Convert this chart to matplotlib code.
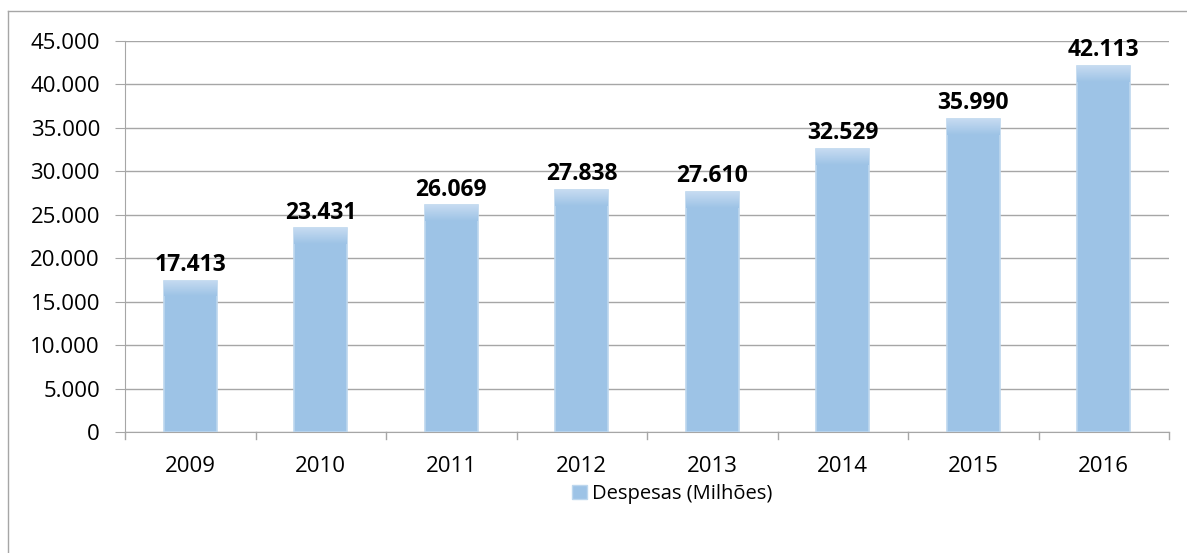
import matplotlib.pyplot as plt
import numpy as np
from matplotlib.colors import LinearSegmentedColormap
from matplotlib.lines import Line2D
from matplotlib.patches import Rectangle

years = ["2009", "2010", "2011", "2012", "2013", "2014", "2015", "2016"]
despesas = [17413, 23431, 26069, 27838, 27610, 32529, 35990, 42113]
labels = ["17.413", "23.431", "26.069", "27.838", "27.610", "32.529", "35.990", "42.113"]
yticks = [0, 5000, 10000, 15000, 20000, 25000, 30000, 35000, 40000, 45000]
ytick_labels = ["0", "5.000", "10.000", "15.000", "20.000", "25.000", "30.000",
                "35.000", "40.000", "45.000"]

plt.rcParams['font.family'] = ['Open Sans', 'DejaVu Sans']

W, H = 1187, 553
fig = plt.figure(figsize=(W / 100, H / 100), dpi=100)
ax = fig.add_axes([125 / W, 1 - 432 / H, (1169 - 125) / W, (432 - 41) / H])

x = np.arange(len(years))
bar_color = "#9DC3E6"
grid_color = "#A6A6A6"
bars = ax.bar(x, despesas, width=0.405, color=bar_color, edgecolor="#BDD7EE",
              linewidth=1.2, zorder=3)

# lighter band at the top of each bar (Excel style gradient)
grad = np.linspace(0, 1, 100).reshape(-1, 1)
cmap = LinearSegmentedColormap.from_list("g", [bar_color, "#C6DBF1"])
for b in bars:
    bx, bw, bh = b.get_x(), b.get_width(), b.get_height()
    top_h = 1800
    im = ax.imshow(grad, extent=[bx, bx + bw, bh - top_h, bh], origin="lower",
                   cmap=cmap, aspect="auto", zorder=3.5)
    im.set_clip_path(b)

for xi, v, lab in zip(x, despesas, labels):
    ax.text(xi, v + 450, lab, ha="center", va="bottom", fontsize=16.5,
            fontweight="bold", color="black", zorder=5)

ax.set_xlim(-0.5, len(years) - 0.5)
ax.set_ylim(0, 45000)
ax.set_yticks(yticks)
ax.set_yticklabels(ytick_labels, fontsize=16)
ax.set_xticks(x)
ax.set_xticklabels(years, fontsize=16)
ax.tick_params(axis="x", length=0, pad=17)
ax.tick_params(axis="y", length=7, color=grid_color, pad=11)
ax.yaxis.grid(True, color=grid_color, linewidth=1.0, zorder=0)
ax.set_axisbelow(True)
for s in ["top", "right"]:
    ax.spines[s].set_visible(False)
ax.spines["left"].set_color(grid_color)
ax.spines["bottom"].set_color(grid_color)

# category boundary ticks on the x axis
for b in np.arange(-0.5, len(years), 1.0):
    ax.add_line(Line2D([b, b], [0, -0.018], color=grid_color, linewidth=1.0,
                       transform=ax.get_xaxis_transform(), clip_on=False))

# legend
handle = Rectangle((0, 0), 1, 1, facecolor=bar_color, edgecolor="#BDD7EE")
fig.legend([handle], ["Despesas (Milhões)"], loc="center",
           bbox_to_anchor=(672 / W, 1 - 494 / H), frameon=False, fontsize=14.5,
           handlelength=0.75, handleheight=0.75, handletextpad=0.25)

# outer chart border (only top and left edges fall inside the image)
fig.add_artist(Line2D([8 / W, 1.0], [1 - 11 / H, 1 - 11 / H], color=grid_color,
                      linewidth=1.0, transform=fig.transFigure))
fig.add_artist(Line2D([8 / W, 8 / W], [0, 1 - 11 / H], color=grid_color,
                      linewidth=1.0, transform=fig.transFigure))

fig.savefig("out.png", dpi=100)
